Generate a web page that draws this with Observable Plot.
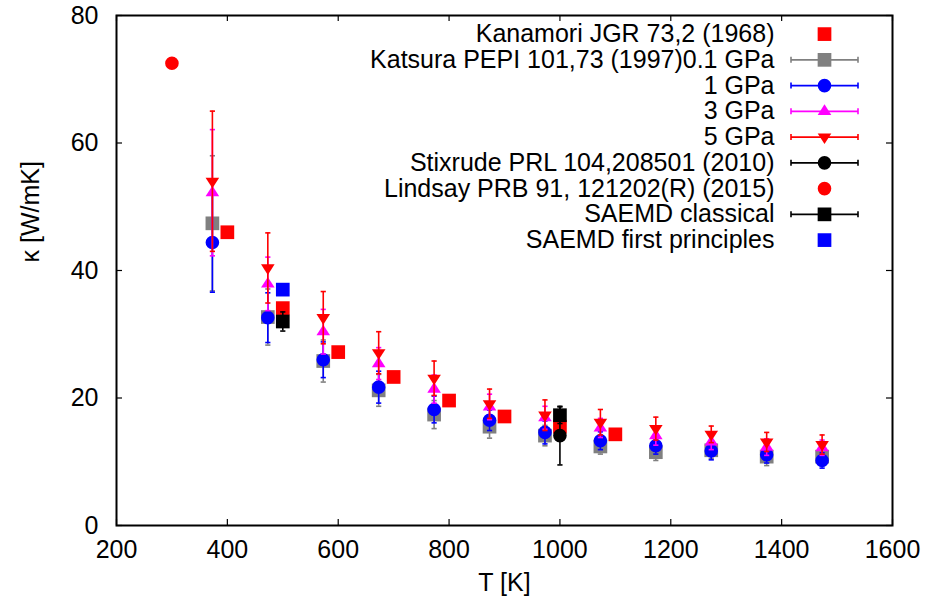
<!DOCTYPE html>
<html><head><meta charset="utf-8">
<script src="https://cdn.jsdelivr.net/npm/d3@7"></script>
<script src="https://cdn.jsdelivr.net/npm/@observablehq/plot@0.6"></script>
<style>body{margin:0;background:#fff;}</style>
</head><body><div id="chart"></div>
<script>
// ---- tick labels / axis labels ----
const xTicks = [200, 400, 600, 800, 1000, 1200, 1400, 1600];
const yTicks = [0, 20, 40, 60, 80];
const xLabel = "T [K]";
const yLabel = "κ [W/mK]";

// ---- Kanamori JGR 73,2 (1968) ----
const kanamoriT = [400, 500, 600, 700, 800, 900, 1000, 1100];
const kanamoriK = [46.0, 34.1, 27.2, 23.3, 19.6, 17.1, 15.5, 14.3];

// ---- Katsura PEPI 101,73 (1997) ----
const katsuraT = [373, 473, 573, 673, 773, 873, 973, 1073, 1173, 1273, 1373, 1473];
const k01 = [47.4, 32.7, 25.8, 21.2, 17.4, 15.5, 14.1, 12.4, 11.5, 11.8, 10.8, 10.8];
const e01 = [10.6, 4.4, 3.3, 2.5, 2.2, 1.8, 1.6, 1.2, 1.3, 1.3, 1.4, 1.1];
const k1 = [44.4, 32.6, 26.0, 21.7, 18.2, 16.5, 14.6, 13.3, 12.5, 11.7, 11.1, 10.2];
const e1 = [7.8, 3.9, 2.8, 2.5, 2.1, 1.6, 1.8, 1.4, 1.3, 1.4, 1.3, 1.2];
const k3 = [52.2, 37.9, 30.4, 25.4, 21.4, 18.6, 16.9, 15.3, 14.1, 13.1, 12.3, 12.2];
const e3 = [9.9, 4.2, 3.5, 2.5, 2.2, 2.0, 1.8, 1.5, 1.5, 1.2, 1.3, 1.2];
const k5 = [54.0, 40.4, 32.6, 27.1, 23.1, 19.1, 17.3, 16.2, 15.2, 14.3, 13.1, 12.7];
const e5 = [11.0, 5.5, 4.1, 3.3, 2.7, 2.3, 2.4, 2.0, 1.8, 1.3, 1.5, 1.5];

// ---- Stixrude PRL 104,208501 (2010) ----
const stixrudeT = [1000];
const stixrudeK = [14.1];
const stixrudeE = [4.6];

// ---- Lindsay PRB 91, 121202(R) (2015) ----
const lindsayT = [300];
const lindsayK = [72.5];

// ---- SAEMD ----
const saemdClT = [500, 1000];
const saemdClK = [32.0, 17.3];
const saemdClE = [1.5, 1.3];
const saemdFpT = [500];
const saemdFpK = [37.0];

// ---- marker shapes (gnuplot-like) ----
const sq = {draw(c) { const h = 6.85; c.moveTo(-h, -h); c.lineTo(h, -h); c.lineTo(h, h); c.lineTo(-h, h); c.closePath(); }};
const circ = {draw(c) { const r = 6.8; c.moveTo(r, 0); c.arc(0, 0, r, 0, 2 * Math.PI); c.closePath(); }};
const triUp = {draw(c) { c.moveTo(0, -7); c.lineTo(6.8, 3.6); c.lineTo(-6.8, 3.6); c.closePath(); }};
const triDown = {draw(c) { c.moveTo(0, 7); c.lineTo(6.8, -3.6); c.lineTo(-6.8, -3.6); c.closePath(); }};
const cap = {draw(c) { c.moveTo(-2.6, 0); c.lineTo(2.6, 0); }};
const keyLine = {draw(c) {
  const w = 33.5;
  c.moveTo(-w, 0); c.lineTo(w, 0);
  c.moveTo(-w, -3); c.lineTo(-w, 3);
  c.moveTo(w, -3); c.lineTo(w, 3);
}};

const rows = (T, K, E) => T.map((t, i) => ({T: t, k: K[i], e: E ? E[i] : 0}));

const series = [
  {name: "Kanamori JGR 73,2 (1968)", data: rows(kanamoriT, kanamoriK), err: false, color: "#ff0000", symbol: sq},
  {name: "Katsura PEPI 101,73 (1997)0.1 GPa", data: rows(katsuraT, k01, e01), err: true, color: "#808080", symbol: sq},
  {name: "1 GPa", data: rows(katsuraT, k1, e1), err: true, color: "#0000ff", symbol: circ},
  {name: "3 GPa", data: rows(katsuraT, k3, e3), err: true, color: "#ff00ff", symbol: triUp},
  {name: "5 GPa", data: rows(katsuraT, k5, e5), err: true, color: "#ff0000", symbol: triDown},
  {name: "Stixrude PRL 104,208501 (2010)", data: rows(stixrudeT, stixrudeK, stixrudeE), err: true, color: "#000000", symbol: circ},
  {name: "Lindsay PRB 91, 121202(R) (2015)", data: rows(lindsayT, lindsayK), err: false, color: "#ff0000", symbol: circ},
  {name: "SAEMD classical", data: rows(saemdClT, saemdClK, saemdClE), err: true, color: "#000000", symbol: sq},
  {name: "SAEMD first principles", data: rows(saemdFpT, saemdFpK), err: false, color: "#0000ff", symbol: sq}
];

const W = 927, H = 609;
const mL = 116, mR = 35, mT = 15, mB = 84;
const fw = W - mL - mR, fh = H - mT - mB;
const FS = 25, KFS = 25;
const tick = 6;

const marks = [];
// inward ticks (bottom, top, left, right)
marks.push(Plot.tickX(xTicks, {x: d => d, insetTop: fh - tick, stroke: "black", strokeWidth: 1.2}));
marks.push(Plot.tickX(xTicks, {x: d => d, insetBottom: fh - tick, stroke: "black", strokeWidth: 1.2}));
marks.push(Plot.tickY(yTicks, {y: d => d, insetRight: fw - tick, stroke: "black", strokeWidth: 1.2}));
marks.push(Plot.tickY(yTicks, {y: d => d, insetLeft: fw - tick, stroke: "black", strokeWidth: 1.2}));
marks.push(Plot.axisX(xTicks, {tickSize: 0, tickPadding: 15, fontSize: FS, label: null, tickFormat: d => String(d)}));
marks.push(Plot.axisY(yTicks, {tickSize: 0, tickPadding: 18, fontSize: FS, label: null, tickFormat: d => String(d)}));
marks.push(Plot.text([xLabel], {frameAnchor: "bottom", dy: 65, text: d => d, fontSize: FS}));
marks.push(Plot.text([yLabel], {frameAnchor: "left", dx: -86, dy: -8, rotate: -90, text: d => d, fontSize: FS}));

// data
for (const s of series) {
  if (s.err) {
    marks.push(Plot.ruleX(s.data, {x: "T", y1: d => d.k - d.e, y2: d => d.k + d.e, stroke: s.color, strokeWidth: 1.6}));
    marks.push(Plot.dot(s.data, {x: "T", y: d => d.k + d.e, symbol: cap, fill: "none", stroke: s.color, strokeWidth: 1.6}));
    marks.push(Plot.dot(s.data, {x: "T", y: d => d.k - d.e, symbol: cap, fill: "none", stroke: s.color, strokeWidth: 1.6}));
  }
  marks.push(Plot.dot(s.data, {x: "T", y: "k", symbol: s.symbol, fill: s.color, stroke: "none"}));
}

// key (legend) inside the frame, top-right
const keyTop = 18.6, keyStep = 25.75, keyMarkerDx = -68, keyTextDx = -118;
series.forEach((s, i) => {
  const dy = keyTop + i * keyStep;
  marks.push(Plot.text([s.name], {frameAnchor: "top-right", dx: keyTextDx, dy, text: d => d, textAnchor: "end", lineAnchor: "middle", fontSize: KFS}));
  if (s.err) marks.push(Plot.dot([0], {frameAnchor: "top-right", dx: keyMarkerDx, dy, symbol: keyLine, fill: "none", stroke: s.color, strokeWidth: 1.6}));
  marks.push(Plot.dot([0], {frameAnchor: "top-right", dx: keyMarkerDx, dy, symbol: s.symbol, fill: s.color, stroke: "none"}));
});

marks.push(Plot.frame({stroke: "black", strokeWidth: 2}));

const chart = Plot.plot({
  width: W, height: H,
  marginLeft: mL, marginRight: mR, marginTop: mT, marginBottom: mB,
  style: {fontFamily: "'Liberation Sans', Arial, sans-serif", fontSize: FS + "px", background: "white", color: "black"},
  x: {type: "linear", domain: [200, 1600], label: null},
  y: {type: "linear", domain: [0, 80], label: null},
  marks
});
document.getElementById("chart").appendChild(chart);
</script>
</body></html>
